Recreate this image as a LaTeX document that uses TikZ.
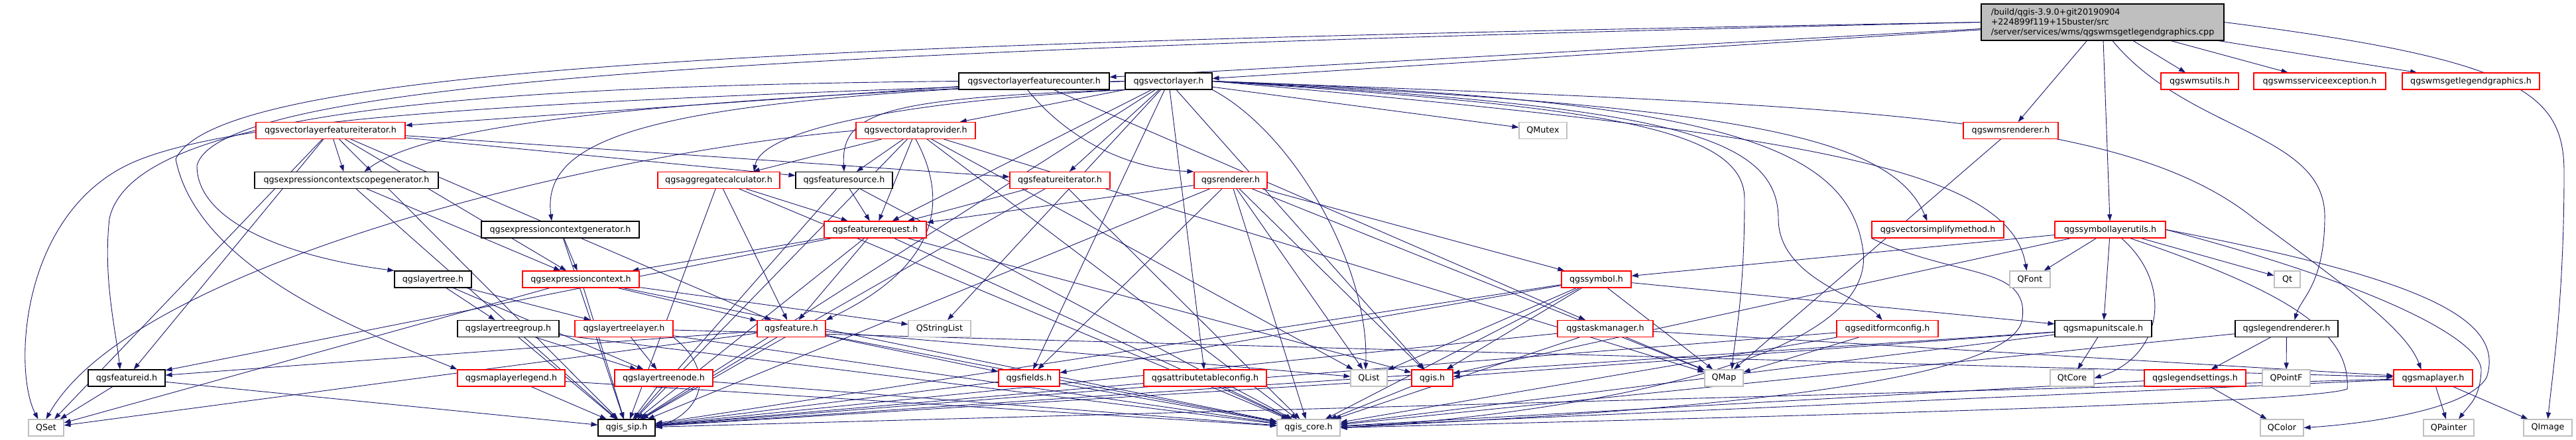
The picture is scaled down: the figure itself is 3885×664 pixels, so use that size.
\documentclass[tikz,border=0pt]{standalone}
\usepackage{fontspec}
\setmainfont{DejaVu Sans}
\usetikzlibrary{arrows.meta,backgrounds}
\definecolor{eblue}{RGB}{25,25,112}
\definecolor{lgray}{RGB}{191,191,191}
\definecolor{mgray}{RGB}{191,191,191}
\newcommand\gfont{\fontsize{12.7}{15}\selectfont}
\tikzset{
 base/.style={rectangle, inner sep=0pt, font=\gfont, fill=white, line width=1.1pt, minimum height=25pt},
 nb/.style={base, draw=black},
 nr/.style={base, draw=red},
 ng/.style={base, draw=lgray},
 e/.style={draw=eblue, line width=0.9pt, -{Triangle[length=10pt,width=7pt]}},
}
\begin{document}
\begin{tikzpicture}[x=1pt,y=-1pt]
\useasboundingbox (0,0) rectangle (3885,664);
% row 1
\node[nb, fill=mgray, minimum width=366pt, minimum height=55pt, align=left, inner xsep=10pt] (main) at (3171,33.5) {/build/qgis-3.9.0+git20190904\\+224899f119+15buster/src\\/server/services/wms/qgswmsgetlegendgraphics.cpp};
% row 2
\node[nb, minimum width=227pt] (counter) at (1559.5,122.5) {qgsvectorlayerfeaturecounter.h};
\node[nb, minimum width=131pt] (vlayer) at (1762.5,122.5) {qgsvectorlayer.h};
\node[nr, minimum width=117pt] (wmsutils) at (3317.5,122.5) {qgswmsutils.h};
\node[nr, minimum width=199pt] (wmsexc) at (3498.5,122.5) {qgswmsserviceexception.h};
\node[nr, minimum width=207pt] (wmsglg) at (3726.5,122.5) {qgswmsgetlegendgraphics.h};
% row 3
\node[nr, minimum width=225pt] (vlfi) at (498.5,197) {qgsvectorlayerfeatureiterator.h};
\node[nr, minimum width=180pt] (vdp) at (1381,197) {qgsvectordataprovider.h};
\node[ng, minimum width=72pt] (qmutex) at (2327,197) {QMutex};
\node[nr, minimum width=143pt] (wmsrend) at (3032.5,197) {qgswmsrenderer.h};
% row 4
\node[nb, minimum width=277pt] (escg) at (522.5,272) {qgsexpressioncontextscopegenerator.h};
\node[nr, minimum width=184pt] (aggc) at (1084,272) {qgsaggregatecalculator.h};
\node[nb, minimum width=146pt] (fsrc) at (1273,272) {qgsfeaturesource.h};
\node[nr, minimum width=151pt] (fit) at (1598.5,272) {qgsfeatureiterator.h};
\node[nr, minimum width=110pt] (rend) at (1856,272) {qgsrenderer.h};
% row 5
\node[nb, minimum width=238pt] (ecg) at (845,346.5) {qgsexpressioncontextgenerator.h};
\node[nr, minimum width=154pt] (freq) at (1320,346.5) {qgsfeaturerequest.h};
\node[nr, minimum width=199pt] (vsm) at (2922.5,346.5) {qgsvectorsimplifymethod.h};
\node[nr, minimum width=167pt] (slu) at (3182.5,346.5) {qgssymbollayerutils.h};
% row 6
\node[nb, minimum width=116pt] (ltree) at (653,421.5) {qgslayertree.h};
\node[nr, minimum width=176pt] (ectx) at (876,421.5) {qgsexpressioncontext.h};
\node[nr, minimum width=105pt] (sym) at (2407.5,421.5) {qgssymbol.h};
\node[ng, minimum width=61pt] (qfont) at (3061.5,421.5) {QFont};
\node[ng, minimum width=39pt] (qt) at (3449.5,421.5) {Qt};
% row 7
\node[nb, minimum width=153pt] (ltg) at (766.5,496) {qgslayertreegroup.h};
\node[nr, minimum width=148pt] (ltl) at (941,496) {qgslayertreelayer.h};
\node[nr, minimum width=103pt] (feat) at (1193.5,496) {qgsfeature.h};
\node[ng, minimum width=94pt] (qsl) at (1417,496) {QStringList};
\node[nr, minimum width=144pt] (task) at (2421,496) {qgstaskmanager.h};
\node[nr, minimum width=153pt] (efc) at (2846.5,496) {qgseditformconfig.h};
\node[nb, minimum width=146pt] (mus) at (3172,496) {qgsmapunitscale.h};
\node[nb, minimum width=155pt] (lrend) at (3448.5,496) {qgslegendrenderer.h};
% row 8
\node[nb, minimum width=116pt] (fid) at (191,570.5) {qgsfeatureid.h};
\node[nr, minimum width=162pt] (mll) at (771,570.5) {qgsmaplayerlegend.h};
\node[nr, minimum width=148pt] (ltn) at (1001,570.5) {qgslayertreenode.h};
\node[nr, minimum width=92pt] (fields) at (1552,570.5) {qgsfields.h};
\node[nr, minimum width=185pt] (atc) at (1817.5,570.5) {qgsattributetableconfig.h};
\node[ng, minimum width=55pt] (qlist) at (2064.5,570.5) {QList};
\node[nr, minimum width=62pt] (qgis) at (2160,570.5) {qgis.h};
\node[ng, minimum width=58pt] (qmap) at (2600,570.5) {QMap};
\node[ng, minimum width=66pt] (qtcore) at (3125,570.5) {QtCore};
\node[nr, minimum width=153pt] (lset) at (3310.5,570.5) {qgslegendsettings.h};
\node[ng, minimum width=72pt] (qpointf) at (3448,570.5) {QPointF};
\node[nr, minimum width=119pt] (mlayer) at (3669.5,570.5) {qgsmaplayer.h};
% row 9
\node[ng, minimum width=53pt] (qset) at (69.5,645.5) {QSet};
\node[nb, minimum width=86pt] (sip) at (945,645.5) {qgis\_sip.h};
\node[ng, minimum width=95pt] (core) at (1973.5,645.5) {qgis\_core.h};
\node[ng, minimum width=65pt] (qcolor) at (3441.5,645.5) {QColor};
\node[ng, minimum width=76pt] (qpainter) at (3693,645.5) {QPainter};
\node[ng, minimum width=73pt] (qimage) at (3842.5,645.5) {QImage};

\begin{scope}[on background layer]
\foreach \a/\b in {main/counter, main/vlayer, main/wmsutils, main/wmsexc, main/wmsglg, main/wmsrend, main/slu,
 counter/vlfi, counter/task,
 vlayer/vdp, vlayer/qmutex, vlayer/fit, vlayer/freq, vlayer/qsl, vlayer/fields, vlayer/atc, vlayer/qgis, vlayer/sip,
 vlfi/escg, vlfi/fsrc, vlfi/fit, vlfi/ectx, vlfi/feat, vlfi/fid, vlfi/sip, vlfi/qset,
 vdp/aggc, vdp/fsrc, vdp/freq, vdp/qlist, vdp/qmap, vdp/sip, vdp/core,
 escg/ectx, escg/sip, ecg/ectx, ecg/sip,
 aggc/freq, aggc/feat, aggc/sip, aggc/core,
 fsrc/freq, fsrc/sip, fsrc/core,
 fit/freq, fit/core, fit/sip,
 rend/freq, rend/sym, rend/fields, rend/qlist, rend/qgis, rend/qmap, rend/sip, rend/core,
 freq/feat, freq/ectx, freq/fid, freq/qgis, freq/core, freq/sip,
 ectx/feat, ectx/qsl, ectx/qset, ectx/sip, ectx/core,
 ltree/ltg, ltree/ltl, ltree/ltn,
 ltg/ltn, ltg/sip, ltg/core,
 ltl/ltn, ltl/core, ltl/mlayer,
 feat/fid, feat/fields, feat/qset, feat/qlist, feat/sip, feat/core,
 sym/fields, sym/qlist, sym/qgis, sym/qmap, sym/mus, sym/sip, sym/core,
 task/qmap, task/sip, task/core, task/mlayer,
 efc/qmap, efc/sip, efc/core,
 mus/qtcore, mus/qgis, mus/sip, mus/core,
 lrend/lset, lrend/qpointf, lrend/core,
 slu/sym, slu/qfont, slu/qt, slu/mus, slu/qgis,
 fid/qset, fid/sip, mll/sip, mll/core, ltn/sip, ltn/core,
 fields/sip, fields/core, atc/sip, atc/core, qgis/core, qgis/sip,
 lset/qcolor, lset/core,
 mlayer/qpainter, mlayer/qimage, mlayer/sip, mlayer/core,
 wmsrend/qmap}
 \draw[e] (\a) -- (\b);
% curved connectors
\draw[e] (main.west) .. controls (1200,75) and (330,120) .. (297,250) .. controls (297,340) and (450,390) .. (ltree.north west);
\draw[e] (main.west) .. controls (1200,65) and (330,100) .. (265,240) .. controls (300,420) and (600,520) .. (mll.north west);
\draw[e] ([xshift=15pt]main.south) .. controls (3300,200) and (3510,200) .. (3506,330) .. controls (3505,430) and (3470,450) .. ([xshift=12pt]lrend.north);
\draw[e] (main.east) .. controls (3800,90) and (3867,140) .. (3867,260) .. controls (3867,450) and (3850,560) .. (qimage.north);
\draw[e] ([xshift=-10pt]counter.south) .. controls (1610,210) and (1700,255) .. (rend.north west);
\draw[e] (counter.west) .. controls (700,130) and (200,170) .. (165,330) .. controls (155,420) and (175,500) .. ([xshift=-10pt]fid.north);
\draw[e] (vlayer.west) .. controls (900,150) and (350,170) .. (190,250) .. controls (30,330) and (20,560) .. ([xshift=-12pt]qset.north);
\draw[e] (vlayer.west) .. controls (1000,150) and (650,185) .. ([xshift=27pt]escg.north);
\draw[e] (vlayer.west) .. controls (1000,148) and (815,200) .. ([xshift=-13pt]ecg.north);
\draw[e] (vlayer.south west) .. controls (1330,148) and (1268,170) .. (fsrc.north);
\draw[e] (vlayer.south west) .. controls (1400,150) and (1150,190) .. ([xshift=53pt]aggc.north);
\draw[e] (vlayer.south east) .. controls (1950,200) and (2065,400) .. ([xshift=-5pt]qlist.north);
\draw[e] (vlayer.east) .. controls (2800,160) and (3200,170) .. (3400,330) .. controls (3550,440) and (3630,500) .. ([xshift=-18pt]mlayer.north);
\draw[e] (vlayer.east) .. controls (2700,200) and (3030,250) .. ([xshift=-5pt]qfont.north);
\draw[e] (vlayer.east) .. controls (2600,160) and (2850,200) .. ([xshift=-16pt]vsm.north);
\draw[e] (vlayer.east) .. controls (2500,160) and (2682,200) .. (2682,330) .. controls (2682,420) and (2810,450) .. ([xshift=-8pt]efc.north);
\draw[e] (vlayer.east) .. controls (2400,160) and (2631,190) .. (2631,300) .. controls (2631,450) and (2615,520) .. ([xshift=12pt]qmap.north);
\draw[e] (vlayer.east) .. controls (2600,150) and (2790,220) .. (2810,380) .. controls (2830,560) and (2300,630) .. (core.east);
\draw[e] (vdp.south) .. controls (1430,300) and (1420,400) .. (feat.north east);
\draw[e] (vdp.west) .. controls (900,230) and (200,400) .. (qset.north);
\draw[e] (ltl.south east) .. controls (1080,560) and (1060,620) .. (sip.east);
\draw[e] ([xshift=17pt]slu.south) .. controls (3280,430) and (3260,540) .. (qtcore.east);
\draw[e] ([xshift=30pt]slu.south) .. controls (3450,440) and (3545,500) .. (3540,587) .. controls (3480,610) and (2600,630) .. (core.east);
\draw[e] (slu.east) .. controls (3650,420) and (3780,480) .. (3750,570) .. controls (3720,620) and (3560,640) .. (qcolor.east);
\draw[e] (slu.east) .. controls (3620,440) and (3745,520) .. (3742,560) .. controls (3740,600) and (3725,610) .. ([xshift=15pt]qpainter.north);
\draw[e] (vsm.south west) .. controls (2950,420) and (3060,400) .. (3050,480) .. controls (3040,600) and (2300,630) .. (core.east);
\end{scope}
\end{tikzpicture}
\end{document}
